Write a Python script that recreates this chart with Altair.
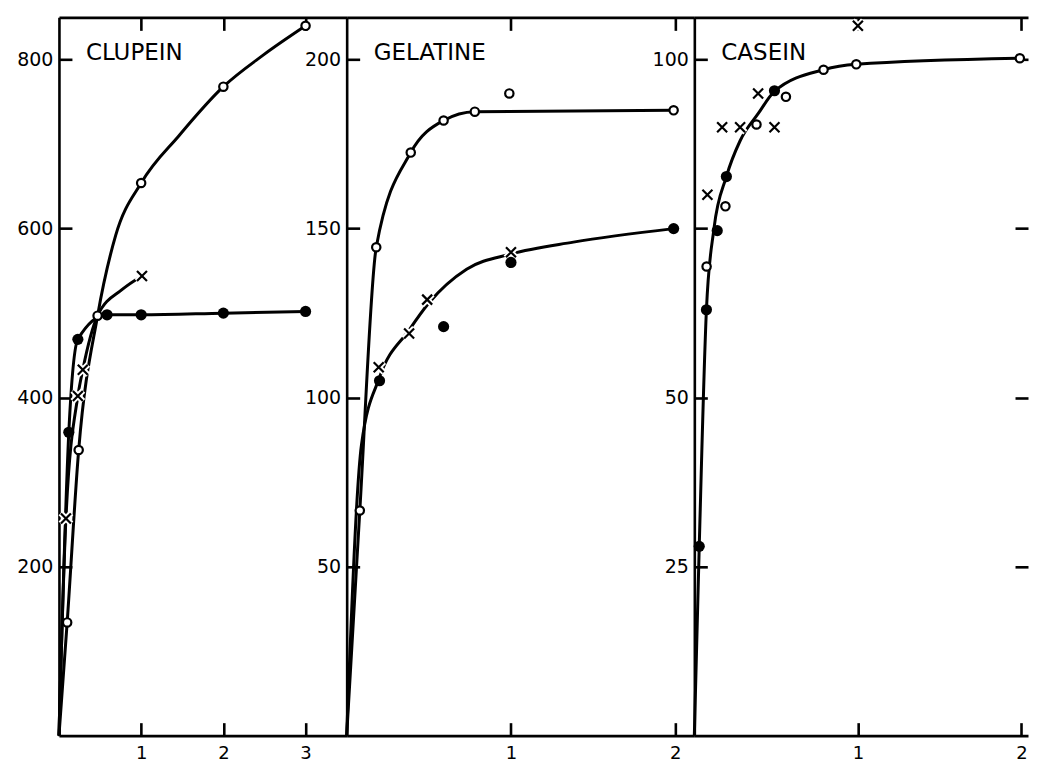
import altair as alt
import pandas as pd

# ---------------- CLUPEIN ----------------
clu_open_x = [0.10, 0.24, 0.47, 1.0, 2.0, 3.0]
clu_open_y = [134, 338, 497, 654, 768, 840]
clu_filled_x = [0.12, 0.23, 0.585, 1.0, 2.0, 3.0]
clu_filled_y = [359, 469, 498, 498, 500, 502]
clu_cross_x = [0.085, 0.23, 0.29, 1.01]
clu_cross_y = [257, 402, 433, 544]
clu_curve_open_x = [0, 0.10, 0.24, 0.47, 0.69, 1.0, 1.46, 2.0, 2.48, 3.0]
clu_curve_open_y = [0, 134, 338, 497, 592, 654, 710, 768, 805, 840]
clu_curve_filled_x = [0, 0.12, 0.23, 0.585, 1.0, 2.0, 3.0]
clu_curve_filled_y = [0, 359, 469, 498, 498, 500, 502]
clu_curve_cross_x = [0, 0.085, 0.23, 0.29, 0.47, 0.77, 1.01]
clu_curve_cross_y = [0, 257, 402, 433, 497, 528, 544]

# ---------------- GELATINE ----------------
gel_open_x = [0.08, 0.18, 0.39, 0.59, 0.78, 0.99, 1.99]
gel_open_y = [66.6, 144.5, 172.5, 182, 184.6, 190, 185]
gel_filled_x = [0.20, 0.59, 1.0, 1.99]
gel_filled_y = [105, 121, 140, 150]
gel_cross_x = [0.195, 0.38, 0.49, 1.0]
gel_cross_y = [109, 119, 129, 143]
gel_curve_upper_x = [0, 0.08, 0.18, 0.39, 0.59, 0.78, 1.99]
gel_curve_upper_y = [0, 66.6, 144.5, 172.5, 182, 184.6, 185]
gel_curve_lower_x = [0, 0.09, 0.20, 0.38, 0.50, 0.73, 1.0, 1.38, 1.99]
gel_curve_lower_y = [0, 86, 106, 120, 128, 138, 142.5, 146, 150]

# ---------------- CASEIN ----------------
cas_open_x = [0.075, 0.19, 0.38, 0.56, 0.79, 0.99, 1.99]
cas_open_y = [69.4, 78.3, 90.4, 94.5, 98.5, 99.3, 100.2]
cas_filled_x = [0.03, 0.074, 0.14, 0.196, 0.49]
cas_filled_y = [28, 63, 74.7, 82.7, 95.4]
cas_cross_x = [0.08, 0.17, 0.28, 0.39, 0.49, 1.0]
cas_cross_y = [80, 90, 90, 95, 90, 105]
cas_curve_x = [0, 0.03, 0.074, 0.12, 0.196, 0.28, 0.39, 0.49, 0.79, 0.99, 1.99]
cas_curve_y = [0, 28, 63, 75, 82.7, 88, 92, 95.3, 98.5, 99.3, 100.2]

titles = ["CLUPEIN", "GELATINE", "CASEIN"]
x_maxes = [3.5, 2.116, 2.04]
y_maxes = [850, 212.5, 106.25]
x_ticks = [[1, 2, 3], [1, 2], [1, 2]]
y_ticks = [[200, 400, 600, 800], [50, 100, 150, 200], [25, 50, 75, 100]]

CROSS = "M-1,-1L1,1M-1,1L1,-1"
TICK = 13
H = 719


def pts(xs, ys):
    return pd.DataFrame({"x": xs, "y": ys})


def curves(pairs):
    frames = []
    for i, (xs, ys) in enumerate(pairs):
        d = pts(xs, ys)
        d["s"] = f"c{i}"
        frames.append(d)
    return pd.concat(frames, ignore_index=True)


def panel(i, curve_df, open_df, filled_df, cross_df, width, right=False, hide_label=None):
    xs = alt.Scale(domain=[0, x_maxes[i]], nice=False, zero=False)
    ys = alt.Scale(domain=[0, y_maxes[i]], nice=False, zero=False)
    neg = alt.ExprRef(expr=str(-TICK))
    ax_b = alt.Axis(orient="bottom", values=x_ticks[i], title=None, tickSize=neg,
                    labelPadding=TICK + 9, labelFontSize=18, format="d")
    ax_t = alt.Axis(orient="top", values=x_ticks[i], title=None, tickSize=neg, labels=False)
    lkw = dict(orient="left", values=y_ticks[i], title=None, tickSize=neg,
               labelPadding=TICK + 6, format="d")
    if hide_label is not None:
        lkw["labelExpr"] = f"datum.value == {hide_label} ? '' : datum.label"
    ax_l = alt.Axis(**lkw)
    ax_r = alt.Axis(orient="right", values=y_ticks[i], title=None, tickSize=neg,
                    labels=False, domain=False)

    line = alt.Chart(curve_df).mark_line(interpolate="monotone", color="black", strokeWidth=3).encode(
        x=alt.X("x:Q", scale=xs, axis=ax_b),
        y=alt.Y("y:Q", scale=ys, axis=ax_l),
        detail="s:N",
    )
    halo = alt.Chart(cross_df).mark_point(shape=CROSS, filled=False, color="white", strokeWidth=6,
                                         size=110, opacity=1).encode(
        x=alt.X("x:Q", scale=xs, axis=ax_t),
        y=alt.Y("y:Q", scale=ys, axis=ax_r if right else None),
    )
    cross = alt.Chart(cross_df).mark_point(shape=CROSS, filled=False, color="black", strokeWidth=2.2,
                                          size=100, opacity=1).encode(
        x=alt.X("x:Q", scale=xs, axis=None),
        y=alt.Y("y:Q", scale=ys, axis=None),
    )
    opn = alt.Chart(open_df).mark_point(shape="circle", filled=True, fill="white", stroke="black",
                                       strokeWidth=2.2, size=70, opacity=1).encode(
        x=alt.X("x:Q", scale=xs, axis=None),
        y=alt.Y("y:Q", scale=ys, axis=None),
    )
    fil = alt.Chart(filled_df).mark_point(shape="circle", filled=True, color="black",
                                         size=125, opacity=1).encode(
        x=alt.X("x:Q", scale=xs, axis=None),
        y=alt.Y("y:Q", scale=ys, axis=None),
    )
    txt = alt.Chart(pd.DataFrame({"t": [titles[i]]})).mark_text(
        align="left", baseline="alphabetic", font="DejaVu Sans", fontSize=23, color="black"
    ).encode(text="t:N", x=alt.value(27), y=alt.value(43))
    return alt.layer(line, halo, cross, opn, fil, txt).resolve_axis(
        x="independent", y="independent").properties(width=width, height=H)


p1 = panel(0,
           curves([(clu_curve_open_x, clu_curve_open_y),
                   (clu_curve_filled_x, clu_curve_filled_y),
                   (clu_curve_cross_x, clu_curve_cross_y)]),
           pts(clu_open_x, clu_open_y), pts(clu_filled_x, clu_filled_y), pts(clu_cross_x, clu_cross_y),
           288)
p2 = panel(1,
           curves([(gel_curve_upper_x, gel_curve_upper_y),
                   (gel_curve_lower_x, gel_curve_lower_y)]),
           pts(gel_open_x, gel_open_y), pts(gel_filled_x, gel_filled_y), pts(gel_cross_x, gel_cross_y),
           348)
p3 = panel(2,
           curves([(cas_curve_x, cas_curve_y)]),
           pts(cas_open_x, cas_open_y), pts(cas_filled_x, cas_filled_y), pts(cas_cross_x, cas_cross_y),
           334, right=True, hide_label=75)

chart = alt.hconcat(p1, p2, p3, spacing=0, bounds="flush").properties(
    padding={"left": 8, "top": 0, "right": 0, "bottom": 0}
).configure_axis(
    grid=False, domainColor="black", domainWidth=2.6, tickColor="black", tickWidth=2.6,
    labelFont="DejaVu Sans", labelFontSize=19, labelColor="black"
).configure_view(strokeWidth=0)

chart.save("out.html", embed_options={"renderer": "svg", "actions": False})
